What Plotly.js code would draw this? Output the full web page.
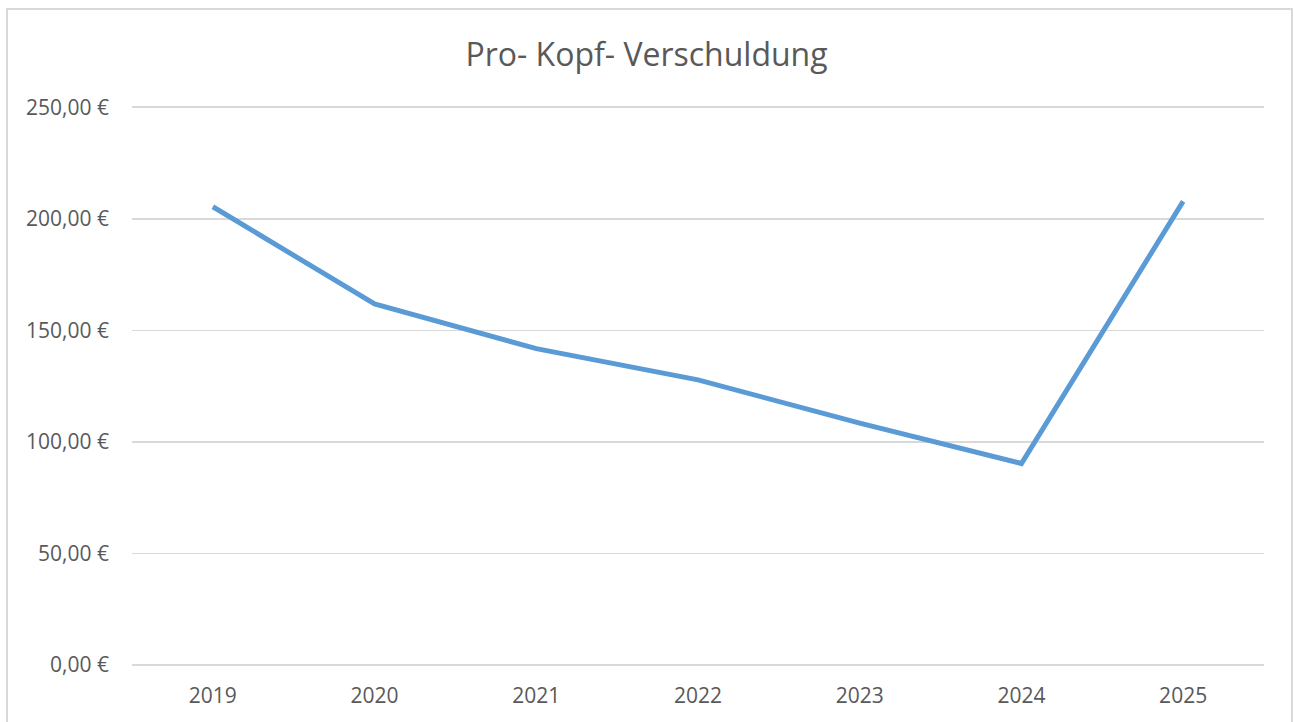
<!DOCTYPE html>
<html>
<head>
<meta charset="utf-8">
<script src="https://cdn.plot.ly/plotly-3.0.1.min.js"></script>
<style>html,body{margin:0;padding:0;background:#fff;}#chart{width:1293px;height:722px;}</style>
</head>
<body>
<div id="chart"></div>
<script>
const years = ["2019", "2020", "2021", "2022", "2023", "2024", "2025"];
const debtPerCapita = [205.4, 161.8, 141.8, 127.8, 108.4, 90.3, 207.8];
const yTicks = [0, 50, 100, 150, 200, 250];
const yTickLabels = ["0,00 €", "50,00 €", "100,00 €", "150,00 €", "200,00 €", "250,00 €"];
const chartTitle = "Pro- Kopf- Verschuldung";

const fontFamily = "'Open Sans', 'Noto Sans', sans-serif";
const grey = "#595959";

Plotly.newPlot("chart", [{
  x: years,
  y: debtPerCapita,
  type: "scatter",
  mode: "lines",
  line: {color: "#5b9bd5", width: 5, shape: "linear"},
  hoverinfo: "x+y"
}], {
  width: 1293,
  height: 722,
  paper_bgcolor: "#ffffff",
  plot_bgcolor: "#ffffff",
  margin: {l: 132, r: 29, t: 105, b: 57},
  showlegend: false,
  title: {
    text: chartTitle,
    font: {family: fontFamily, size: 32, color: grey},
    x: 0.5, xanchor: "center",
    y: 1 - 55/722, yanchor: "middle"
  },
  xaxis: {
    type: "category",
    range: [-0.5, 6.5],
    showgrid: false,
    zeroline: false,
    showline: false,
    ticks: "",
    ticklabelstandoff: 16,
    tickfont: {family: fontFamily, size: 21, color: grey},
    fixedrange: true
  },
  yaxis: {
    range: [0, 251],
    tickmode: "array",
    tickvals: yTicks,
    ticktext: yTickLabels,
    showgrid: true,
    gridcolor: "#d9d9d9",
    gridwidth: 1.5,
    zeroline: true,
    zerolinecolor: "#d9d9d9",
    zerolinewidth: 1.5,
    showline: false,
    ticks: "",
    ticklabelstandoff: 22,
    tickfont: {family: fontFamily, size: 21, color: grey},
    fixedrange: true
  },
  shapes: [{
    type: "rect", xref: "paper", yref: "paper",
    x0: (7 - 132) / 1132, x1: (1292 - 132) / 1132,
    y0: -(740 - 665) / 560, y1: (665 - 9) / 560,
    line: {color: "#d9d9d9", width: 2},
    fillcolor: "rgba(0,0,0,0)",
    layer: "below"
  }]
}, {displayModeBar: false, staticPlot: true});
</script>
</body>
</html>
